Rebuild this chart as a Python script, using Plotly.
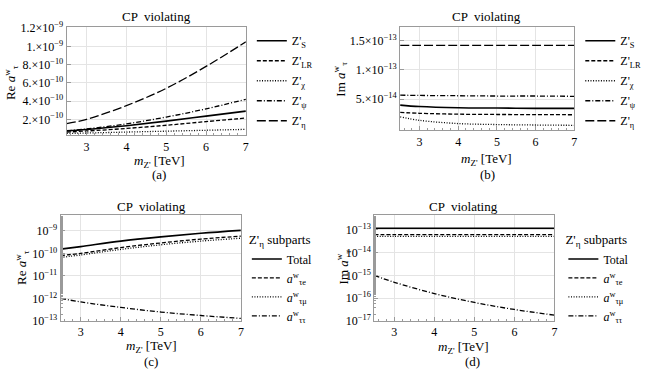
import plotly.graph_objects as go

W, H = 647, 380
FONT = "Liberation Serif, DejaVu Serif, serif"

mass = [2.5, 3, 4, 5, 6, 7]

# panel (a): Re a^w_tau (CP violating) for Z' models
re_S = [0.72e-10, 0.88e-10, 1.3e-10, 1.8e-10, 2.35e-10, 2.9e-10]
re_LR = [0.60e-10, 0.72e-10, 1.0e-10, 1.35e-10, 1.75e-10, 2.14e-10]
re_chi = [0.45e-10, 0.50e-10, 0.60e-10, 0.70e-10, 0.80e-10, 0.90e-10]
re_psi = [0.75e-10, 0.95e-10, 1.5e-10, 2.25e-10, 3.15e-10, 4.2e-10]
re_eta = [1.54e-10, 2.0e-10, 3.5e-10, 5.4e-10, 7.8e-10, 10.5e-10]

# panel (b): Im a^w_tau
im_S = [4.0e-14, 3.75e-14, 3.55e-14, 3.5e-14, 3.45e-14, 3.45e-14]
im_LR = [2.75e-14, 2.6e-14, 2.45e-14, 2.4e-14, 2.38e-14, 2.35e-14]
im_chi = [2.0e-14, 1.4e-14, 0.85e-14, 0.68e-14, 0.6e-14, 0.55e-14]
im_psi = [5.7e-14, 5.65e-14, 5.6e-14, 5.55e-14, 5.55e-14, 5.5e-14]
im_eta = [14.2e-14, 14.2e-14, 14.2e-14, 14.2e-14, 14.2e-14, 14.2e-14]

# panel (c): Z'_eta subparts, Re
re_total = [1.54e-10, 2.0e-10, 3.5e-10, 5.4e-10, 7.8e-10, 10.5e-10]
re_te = [8.0e-11, 1.0e-10, 1.8e-10, 2.9e-10, 4.3e-10, 5.8e-10]
re_tmu = [6.6e-11, 8.5e-11, 1.5e-10, 2.4e-10, 3.5e-10, 4.7e-10]
re_tt = [1.0e-12, 7.0e-13, 4.0e-13, 2.5e-13, 1.75e-13, 1.3e-13]

# panel (d): Z'_eta subparts, Im
im_total = [1.17e-13, 1.17e-13, 1.17e-13, 1.17e-13, 1.17e-13, 1.17e-13]
im_te = [6.2e-14, 6.2e-14, 6.2e-14, 6.2e-14, 6.2e-14, 6.2e-14]
im_tmu = [5.2e-14, 5.2e-14, 5.2e-14, 5.2e-14, 5.2e-14, 5.2e-14]
im_tt = [1.0e-15, 5.0e-16, 1.6e-16, 6.5e-17, 3.2e-17, 1.8e-17]

model_names = ["Z'<sub>S</sub>", "Z'<sub>LR</sub>", "Z'<sub>χ</sub>", "Z'<sub>ψ</sub>", "Z'<sub>η</sub>"]
sub_names = ["Total", "<i>a</i><sup>w</sup><sub>τe</sub>", "<i>a</i><sup>w</sup><sub>τμ</sub>", "<i>a</i><sup>w</sup><sub>ττ</sub>"]

re_ticks = [2e-10, 4e-10, 6e-10, 8e-10, 1e-9, 1.2e-9]
re_ticktext = ["2.×10<sup>−10</sup>", "4.×10<sup>−10</sup>", "6.×10<sup>−10</sup>",
               "8.×10<sup>−10</sup>", "1.×10<sup>−9</sup>", "1.2×10<sup>−9</sup>"]
im_ticks = [5e-14, 1e-13, 1.5e-13]
im_ticktext = ["5.×10<sup>−14</sup>", "1.×10<sup>−13</sup>", "1.5×10<sup>−13</sup>"]
c_ticks = [1e-13, 1e-12, 1e-11, 1e-10, 1e-9]
c_ticktext = ["10<sup>−13</sup>", "10<sup>−12</sup>", "10<sup>−11</sup>", "10<sup>−10</sup>", "10<sup>−9</sup>"]
d_ticks = [1e-17, 1e-16, 1e-15, 1e-14, 1e-13]
d_ticktext = ["10<sup>−17</sup>", "10<sup>−16</sup>", "10<sup>−15</sup>", "10<sup>−14</sup>", "10<sup>−13</sup>"]
x_ticks = [3, 4, 5, 6, 7]

dashes = ["solid", "4px,2px", "1px,1.6px", "5px,2px,1px,2px", "9px,3px"]
sub_dashes = ["solid", "4px,2px", "1px,1.6px", "5px,2px,1px,2px"]


def px(x):
    return x / W


def py(y):
    return 1 - y / H


fig = go.Figure()

model_sets = [
    ([re_S, re_LR, re_chi, re_psi, re_eta], "x", "y", "legend"),
    ([im_S, im_LR, im_chi, im_psi, im_eta], "x2", "y2", "legend2"),
]
for series, xa, ya, lg in model_sets:
    for i, (vals, name) in enumerate(zip(series, model_names)):
        fig.add_trace(go.Scatter(
            x=mass, y=vals, mode="lines", name=name, xaxis=xa, yaxis=ya,
            line=dict(color="black", width=1.6 if i == 0 else 1.3, dash=dashes[i], shape="spline"),
            legend=lg, legendgroup=lg + str(i)))

sub_sets = [
    ([re_total, re_te, re_tmu, re_tt], "x3", "y3", "legend3"),
    ([im_total, im_te, im_tmu, im_tt], "x4", "y4", "legend4"),
]
for series, xa, ya, lg in sub_sets:
    for i, (vals, name) in enumerate(zip(series, sub_names)):
        fig.add_trace(go.Scatter(
            x=mass, y=vals, mode="lines", name=name, xaxis=xa, yaxis=ya,
            line=dict(color="black", width=1.6 if i == 0 else 1.3, dash=sub_dashes[i], shape="spline"),
            legend=lg, legendgroup=lg + str(i)))

frame = "#9a9a9a"
grid = "#e4e4e4"
tickfont = dict(family=FONT, size=12, color="black")


def xaxis(dom, anchor):
    return dict(domain=dom, anchor=anchor, range=[2.5, 7], tickvals=x_ticks,
                showline=True, linecolor=frame, linewidth=1, mirror=True,
                ticks="inside", ticklen=4, tickcolor=frame,
                showgrid=True, gridcolor=grid, zeroline=False, tickfont=tickfont,
                minor=dict(ticks="inside", ticklen=2, tickcolor=frame, dtick=0.2, showgrid=False))


def yaxis(dom, anchor, rng, tv, tt, log=False):
    d = dict(domain=dom, anchor=anchor, range=rng, tickvals=tv, ticktext=tt,
             showline=True, linecolor=frame, linewidth=1, mirror=True,
             ticks="inside", ticklen=4, tickcolor=frame,
             showgrid=True, gridcolor=grid, zeroline=False, tickfont=tickfont)
    if log:
        d["type"] = "log"
        d["minor"] = dict(ticks="inside", ticklen=2, tickcolor=frame, showgrid=False)
    return d


fig.update_layout(
    width=W, height=H, margin=dict(l=0, r=0, t=0, b=0),
    paper_bgcolor="white", plot_bgcolor="white",
    font=dict(family=FONT, size=12, color="black"),
    xaxis=xaxis([px(67), px(247)], "y"),
    yaxis=yaxis([py(133), py(21)], "x", [0.27e-10, 1.21e-9], re_ticks, re_ticktext),
    xaxis2=xaxis([px(402), px(577)], "y2"),
    yaxis2=yaxis([py(128), py(21)], "x2", [-0.3e-14, 1.73e-13], im_ticks, im_ticktext),
    xaxis3=xaxis([px(61), px(242)], "y3"),
    yaxis3=yaxis([py(326), py(216)], "x3", [-13, -8.3], c_ticks, c_ticktext, log=True),
    xaxis4=xaxis([px(376), px(557)], "y4"),
    yaxis4=yaxis([py(326), py(216)], "x4", [-17, -12.35], d_ticks, d_ticktext, log=True),
    showlegend=True,
)

leg_common = dict(xanchor="left", yanchor="top", bgcolor="rgba(0,0,0,0)",
                  font=dict(family=FONT, size=12, color="black"),
                  traceorder="grouped", itemwidth=30)
fig.update_layout(
    legend=dict(x=px(253), y=py(20), tracegroupgap=1, **leg_common),
    legend2=dict(x=px(583), y=py(20), tracegroupgap=1, **leg_common),
    legend3=dict(x=px(248), y=py(229), tracegroupgap=0,
                 title=dict(text="Z'<sub>η</sub> subparts", font=dict(family=FONT, size=13)), **leg_common),
    legend4=dict(x=px(566), y=py(229), tracegroupgap=0,
                 title=dict(text="Z'<sub>η</sub> subparts", font=dict(family=FONT, size=13)), **leg_common),
)

ann = []


def text(x, y, s, size=13, angle=0):
    ann.append(dict(x=px(x), y=py(y), xref="paper", yref="paper", text=s, showarrow=False,
                    font=dict(family=FONT, size=size, color="black"), textangle=angle,
                    xanchor="center", yanchor="middle"))


xtitle = "<i>m</i><sub>Z'</sub> [TeV]"
text(157, 10, "CP  violating")
text(489, 10, "CP  violating")
text(152, 207, "CP  violating")
text(466, 207, "CP  violating")
text(160, 160, xtitle)
text(489, 158, xtitle)
text(152, 353, xtitle)
text(466, 354, xtitle)
text(160, 174, "(a)")
text(490, 174, "(b)")
text(152, 368, "(c)")
text(475, 368, "(d)")
text(11, 78, "Re <i>a</i><sup>w</sup><sub>τ</sub>", angle=-90)
text(342, 75, "Im <i>a</i><sup>w</sup><sub>τ</sub>", angle=-90)
text(22, 270, "Re <i>a</i><sup>w</sup><sub>τ</sub>", angle=-90)
text(345, 270, "Im <i>a</i><sup>w</sup><sub>τ</sub>", angle=-90)
fig.update_layout(annotations=ann)

fig.write_html("out.html", config={"displayModeBar": False},
               post_script="document.body.style.margin='0';document.body.style.padding='0';")
